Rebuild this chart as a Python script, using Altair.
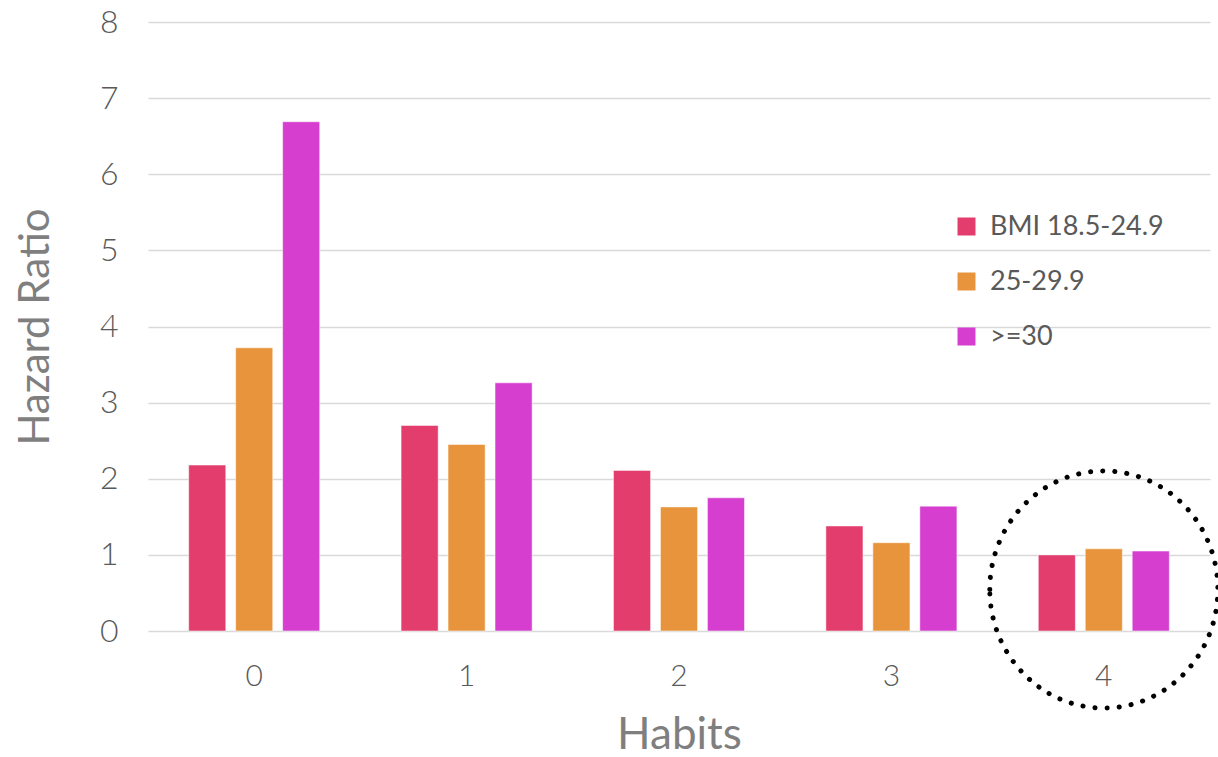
import altair as alt
import pandas as pd

habits = ["0", "1", "2", "3", "4"]
groups = ["BMI 18.5-24.9", "25-29.9", ">=30"]
bmi_normal = [2.18, 2.70, 2.11, 1.38, 1.00]
bmi_over = [3.72, 2.45, 1.63, 1.16, 1.08]
bmi_obese = [6.69, 3.26, 1.75, 1.64, 1.05]
colors = ["#E33D6E", "#E8943C", "#D53ECF"]

highlight_habit = ["4"]
highlight_y = [0.545]

rows = []
for g, vals in zip(groups, [bmi_normal, bmi_over, bmi_obese]):
    for h, v in zip(habits, vals):
        rows.append({"Habits": h, "Group": g, "HR": v})
df = pd.DataFrame(rows)
ann = pd.DataFrame({"Habits": highlight_habit, "y": highlight_y})

FONT = "Lato"

x_enc = alt.X(
    "Habits:N",
    sort=habits,
    title="Habits",
    scale=alt.Scale(paddingInner=0.383, paddingOuter=0.1915),
    axis=alt.Axis(
        labelAngle=0, labelFontSize=30, labelColor="#595959", labelFont=FONT,
        labelFontWeight=300,
        labelPadding=30, ticks=False, domain=False, grid=False,
        titleFontSize=44, titleColor="#7F7F7F", titleFont=FONT, titleFontWeight="normal",
        titlePadding=22,
    ),
)

bars = alt.Chart(df).mark_bar(stroke="white", strokeWidth=1, strokeOpacity=0.5).encode(
    x=x_enc,
    xOffset=alt.XOffset("Group:N", sort=groups, scale=alt.Scale(paddingInner=0.21, paddingOuter=0)),
    y=alt.Y(
        "HR:Q",
        title="Hazard Ratio",
        scale=alt.Scale(domain=[0, 8], nice=False),
        axis=alt.Axis(
            values=list(range(0, 9)), format="d", labelFontSize=32, labelColor="#595959", labelFont=FONT,
            labelFontWeight=300,
            labelPadding=30, ticks=False, domain=False,
            gridColor="#D9D9D9", gridWidth=1.5,
            titleFontSize=42, titleColor="#7F7F7F", titleFont=FONT, titleFontWeight="normal",
            titlePadding=42,
        ),
    ),
    color=alt.Color(
        "Group:N",
        sort=groups,
        scale=alt.Scale(domain=groups, range=colors),
        legend=alt.Legend(
            title=None, orient="none", legendX=805, legendY=191,
            symbolType="square", symbolSize=324, symbolStrokeWidth=0,
            labelFontSize=27, labelColor="#595959", labelFont=FONT, labelLimit=400,
            rowPadding=27, labelOffset=10, padding=0,
        ),
    ),
)

circle = alt.Chart(ann).mark_point(
    shape="M -0.962,0 A 0.962,1 0 1,1 0.962,0 A 0.962,1 0 1,1 -0.962,0 Z",
    size=56200,
    filled=False,
    stroke="black",
    strokeWidth=5,
    strokeDash=[0.1, 12],
    strokeCap="round",
    opacity=1,
).encode(
    x=alt.X("Habits:N", sort=habits),
    y=alt.Y("y:Q"),
)

chart = alt.layer(bars, circle).properties(
    width=1062,
    height=609,
    background="white",
    autosize=alt.AutoSizeParams(type="none"),
    padding={"left": 148, "top": 22, "right": 8, "bottom": 126},
).configure_view(stroke=None)

chart.save("out.html", embed_options={"renderer": "svg", "actions": False})
